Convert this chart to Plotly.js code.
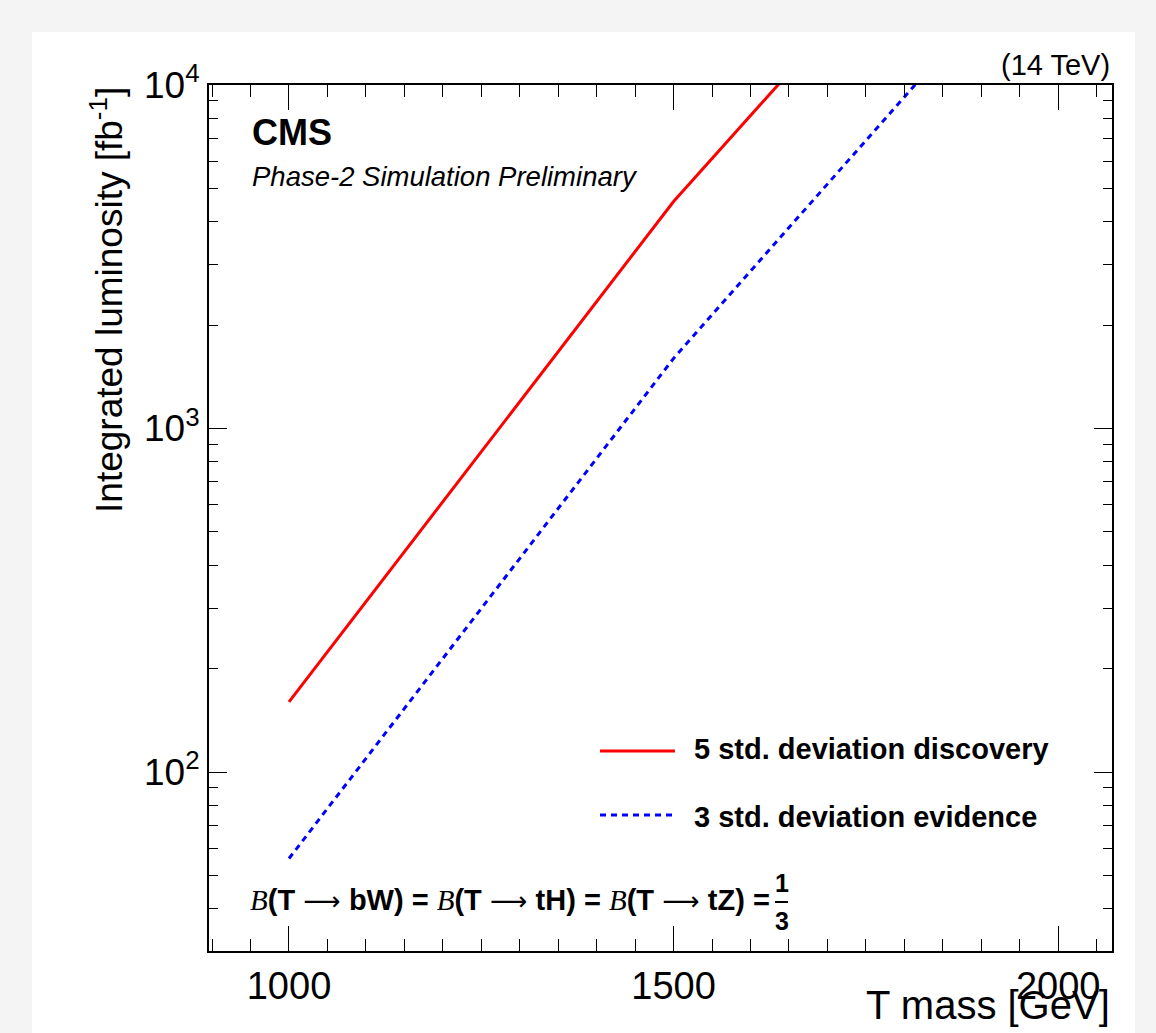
<!DOCTYPE html>
<html>
<head>
<meta charset="utf-8">
<script src="https://cdn.plot.ly/plotly-3.0.1.min.js"></script>
<style>
html,body{margin:0;padding:0;background:#f4f4f4;overflow:hidden;width:1156px;height:1033px;}
#chart{position:absolute;left:32px;top:32px;width:1103px;height:1010px;background:#fff;}
</style>
</head>
<body>
<div id="chart"></div>
<script>
// Data
const massGeV = [1000, 1500, 2000];
const lumi5sigma = [160, 4580, 81300];   // 5 std. deviation discovery [fb^-1]
const lumi3sigma = [56, 1600, 29700];    // 3 std. deviation evidence [fb^-1]
const seriesNames = ['5 std. deviation discovery', '3 std. deviation evidence'];

const yMajorTicks = [100, 1000, 10000];
const yMajorText = ['10<sup>2</sup>', '10<sup>3</sup>', '10<sup>4</sup>'];
const yMinorTicks = [40, 50, 60, 70, 80, 90, 200, 300, 400, 500, 600, 700, 800, 900,
                     2000, 3000, 4000, 5000, 6000, 7000, 8000, 9000];
const xMajorTicks = [1000, 1500, 2000];
const xMajorText = ['1000', '1500', '2000'];

const FONT = '"Liberation Sans", Arial, Helvetica, sans-serif';
const SERIF_SPAN_I = '<span style="font-family:\'Liberation Serif\';font-style:italic;font-weight:normal">B</span>';
const ARROW = '<span style="font-family:\'DejaVu Sans\';font-weight:normal;font-size:26px"> ⟶ </span>';

const traces = [
  {x: massGeV, y: lumi5sigma, type: 'scatter', mode: 'lines', name: seriesNames[0],
   line: {color: '#ff0000', width: 3}, showlegend: false, hoverinfo: 'skip'},
  {x: massGeV, y: lumi3sigma, type: 'scatter', mode: 'lines', name: seriesNames[1],
   line: {color: '#0000ff', width: 3, dash: '6px,5px'}, showlegend: false, hoverinfo: 'skip'}
];

const layout = {
  width: 1103, height: 1010,
  margin: {l: 177, r: 23, t: 53, b: 91},
  paper_bgcolor: '#ffffff', plot_bgcolor: '#ffffff',
  font: {family: FONT, color: '#000', size: 36},
  showlegend: false,
  xaxis: {
    range: [896, 2070], tickmode: 'array', tickvals: xMajorTicks, ticktext: xMajorText,
    ticks: 'inside', ticklen: 25, tickwidth: 1, tickcolor: '#000',
    minor: {ticks: 'inside', ticklen: 12, tickwidth: 1, tickcolor: '#000', dtick: 50, tick0: 0, showgrid: false},
    showline: true, linewidth: 2, linecolor: '#000', mirror: 'ticks',
    showgrid: false, zeroline: false,
    tickfont: {size: 38, family: FONT}
  },
  yaxis: {
    type: 'log', range: [1.479, 4],
    tickmode: 'array', tickvals: yMajorTicks, ticktext: yMajorText,
    ticks: 'inside', ticklen: 18, tickwidth: 1, tickcolor: '#000',
    minor: {ticks: 'inside', ticklen: 9, tickwidth: 1, tickcolor: '#000', tickmode: 'array', tickvals: yMinorTicks, showgrid: false},
    showline: true, linewidth: 2, linecolor: '#000', mirror: 'ticks',
    showgrid: false, zeroline: false,
    tickfont: {size: 37, family: FONT}
  },
  shapes: [
    {type: 'line', xref: 'paper', yref: 'paper', x0: 0.433, x1: 0.516, y0: 0.2309, y1: 0.2309,
     line: {color: '#ff0000', width: 3}},
    {type: 'line', xref: 'paper', yref: 'paper', x0: 0.433, x1: 0.516, y0: 0.157, y1: 0.157,
     line: {color: '#0000ff', width: 3, dash: '6px,5px'}},
    {type: 'line', xref: 'paper', yref: 'paper', x0: 0.6268, x1: 0.6412, y0: 0.0566, y1: 0.0566,
     line: {color: '#000', width: 2}}
  ],
  annotations: [
    {text: 'Integrated luminosity [fb<sup>-1</sup>]', xref: 'paper', yref: 'paper',
     x: -0.113, y: 1.0, xanchor: 'center', yanchor: 'top', textangle: -90, showarrow: false,
     font: {size: 37, family: FONT}},
    {text: 'T mass [GeV]', xref: 'paper', yref: 'paper', x: 1.0, y: -0.062,
     xanchor: 'right', yanchor: 'middle', showarrow: false, font: {size: 40, family: FONT}},
    {text: '(14 TeV)', xref: 'paper', yref: 'paper', x: 1.0, y: 1.0231,
     xanchor: 'right', yanchor: 'middle', showarrow: false, font: {size: 29, family: FONT}},
    {text: '<b>CMS</b>', xref: 'paper', yref: 'paper', x: 0.0454, y: 0.9446,
     xanchor: 'left', yanchor: 'middle', showarrow: false, font: {size: 36, family: FONT}},
    {text: '<i>Phase-2 Simulation Preliminary</i>', xref: 'paper', yref: 'paper', x: 0.0454, y: 0.8949,
     xanchor: 'left', yanchor: 'middle', showarrow: false, font: {size: 27.5, family: FONT}},
    {text: '<b>' + seriesNames[0] + '</b>', xref: 'paper', yref: 'paper', x: 0.5349, y: 0.2333,
     xanchor: 'left', yanchor: 'middle', showarrow: false, font: {size: 29, family: FONT}},
    {text: '<b>' + seriesNames[1] + '</b>', xref: 'paper', yref: 'paper', x: 0.5349, y: 0.1547,
     xanchor: 'left', yanchor: 'middle', showarrow: false, font: {size: 29, family: FONT}},
    {text: SERIF_SPAN_I + '<b>(T</b>' + ARROW + '<b>bW) = </b>' +
           SERIF_SPAN_I + '<b>(T</b>' + ARROW + '<b>tH) = </b>' +
           SERIF_SPAN_I + '<b>(T</b>' + ARROW + '<b>tZ) =</b>',
     xref: 'paper', yref: 'paper', x: 0.0432, y: 0.0589,
     xanchor: 'left', yanchor: 'middle', showarrow: false, font: {size: 29, family: FONT}},
    {text: '<b>1</b>', xref: 'paper', yref: 'paper', x: 0.6340, y: 0.0790,
     xanchor: 'center', yanchor: 'middle', showarrow: false, font: {size: 25, family: FONT}},
    {text: '<b>3</b>', xref: 'paper', yref: 'paper', x: 0.6340, y: 0.0345,
     xanchor: 'center', yanchor: 'middle', showarrow: false, font: {size: 25, family: FONT}}
  ]
};

Plotly.newPlot('chart', traces, layout, {staticPlot: true, displayModeBar: false});
</script>
</body>
</html>
